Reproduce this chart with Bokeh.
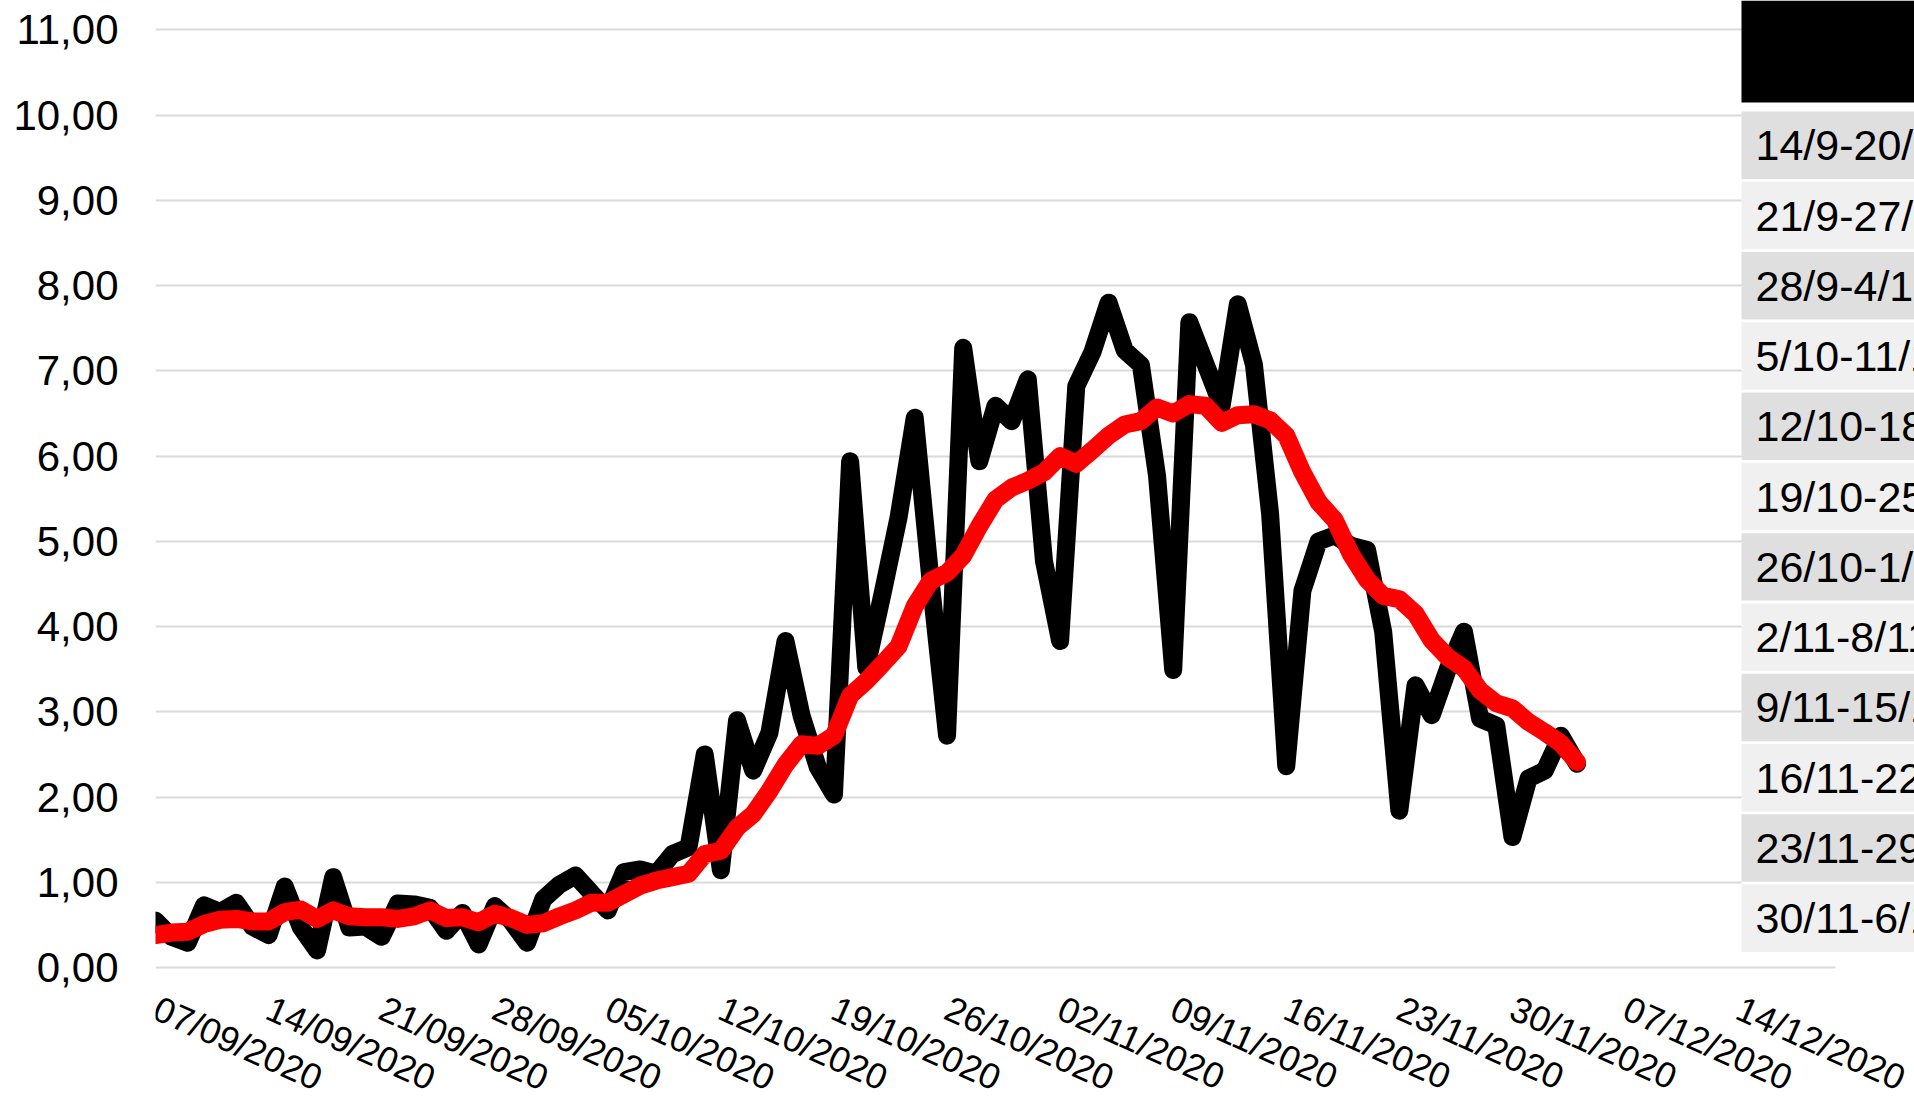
import pandas as pd
from bokeh.plotting import figure
from bokeh.models import (Range1d, FixedTicker, DatetimeTickFormatter, CustomJSTickFormatter,
                          BoxAnnotation, Label, ColumnDataSource)
from bokeh.embed import file_html
from bokeh.resources import INLINE

# ---------------- data ----------------
start_date = "2020-09-07"

daily_values = [
    0.55, 0.36, 0.29, 0.73, 0.65, 0.76, 0.48, 0.38, 0.95, 0.47,
    0.20, 1.06, 0.47, 0.48, 0.36, 0.75, 0.74, 0.70, 0.43, 0.64,
    0.27, 0.72, 0.55, 0.29, 0.80, 0.97, 1.08, 0.87, 0.67, 1.12,
    1.15, 1.10, 1.33, 1.41, 2.50, 1.14, 2.90, 2.31, 2.75, 3.83,
    2.95, 2.35, 2.03, 5.94, 3.52, 4.38, 5.28, 6.45, 4.50, 2.72,
    7.27, 5.94, 6.59, 6.41, 6.90, 4.77, 3.83, 6.82, 7.22, 7.80,
    7.24, 7.07, 5.77, 3.49, 7.57, 7.08, 6.59, 7.78, 7.07, 5.32,
    2.36, 4.42, 5.00, 5.07, 4.95, 4.90, 3.94, 1.84, 3.31, 2.96,
    3.50, 3.94, 2.92, 2.84, 1.53, 2.22, 2.31, 2.72, 2.39,
]

avg_values = [
    0.38, 0.41, 0.42, 0.51, 0.56, 0.57, 0.54, 0.54, 0.65, 0.68,
    0.57, 0.67, 0.60, 0.59, 0.59, 0.57, 0.60, 0.67, 0.58, 0.59,
    0.53, 0.63, 0.58, 0.50, 0.52, 0.60, 0.67, 0.76, 0.76, 0.86,
    0.96, 1.02, 1.06, 1.10, 1.33, 1.37, 1.64, 1.80, 2.07, 2.38,
    2.62, 2.60, 2.72, 3.19, 3.36, 3.56, 3.77, 4.24, 4.54, 4.63,
    4.83, 5.18, 5.49, 5.63, 5.71, 5.81, 6.00, 5.91, 6.07, 6.24,
    6.37, 6.41, 6.57, 6.50, 6.61, 6.59, 6.39, 6.48, 6.49, 6.42,
    6.24, 5.81, 5.46, 5.25, 4.85, 4.55, 4.36, 4.32, 4.15, 3.84,
    3.64, 3.51, 3.25, 3.10, 3.04, 2.88, 2.76, 2.63, 2.41,
]

x_tick_dates = [
    "2020-09-07", "2020-09-14", "2020-09-21", "2020-09-28", "2020-10-05",
    "2020-10-12", "2020-10-19", "2020-10-26", "2020-11-02", "2020-11-09",
    "2020-11-16", "2020-11-23", "2020-11-30", "2020-12-07", "2020-12-14",
]
x_axis_end = "2020-12-20"

y_ticks = [0, 1, 2, 3, 4, 5, 6, 7, 8, 9, 10, 11]

table_labels = [
    "14/9-20/9", "21/9-27/9", "28/9-4/10", "5/10-11/10", "12/10-18/10",
    "19/10-25/10", "26/10-1/11", "2/11-8/11", "9/11-15/11", "16/11-22/11",
    "23/11-29/11", "30/11-6/12",
]
table_colors = ["#dfdfdf", "#f0f0f0"]

# ---------------- layout (page pixels) ----------------
W, H = 1914, 1099
plot_left, plot_right = 155, 1835          # pixel position of first / last x-axis date
y_top_px, y_zero_px = 29.4, 967.0          # pixel position of y=11 and y=0

t0 = pd.Timestamp(start_date)
t_end = pd.Timestamp(x_axis_end)
days_span = (t_end - t0) / pd.Timedelta(days=1)
px_per_day = (plot_right - plot_left) / days_span
x_max = t0 + pd.Timedelta(days=(W - plot_left) / px_per_day)

ppu = (y_zero_px - y_top_px) / y_ticks[-1]
y_min = -(H - y_zero_px) / ppu
y_max = y_ticks[-1] + y_top_px / ppu

dates = pd.date_range(start_date, periods=len(daily_values), freq="D")
src = ColumnDataSource(dict(date=dates, daily=daily_values, avg=avg_values))

p = figure(
    width=W, height=H, output_backend="svg", toolbar_location=None,
    x_axis_type="datetime",
    x_range=Range1d(t0, x_max),
    y_range=Range1d(y_min, y_max),
    min_border_left=plot_left, min_border_right=0, min_border_top=0, min_border_bottom=0,
    background_fill_color="white", border_fill_color="white",
)
p.outline_line_color = None

# grid
p.xgrid.grid_line_color = None
p.ygrid.ticker = FixedTicker(ticks=y_ticks)
p.ygrid.grid_line_color = "#d9d9d9"
p.ygrid.grid_line_width = 2
t0_ms = t0.value // 10**6
tend_ms = t_end.value // 10**6
grid_limited = True
try:
    p.ygrid.cross_bounds = (t0_ms, tend_ms)
except Exception:
    grid_limited = False

# y axis
p.yaxis.ticker = FixedTicker(ticks=y_ticks)
p.yaxis.formatter = CustomJSTickFormatter(code="return tick.toFixed(2).replace('.', ',');")
p.yaxis.axis_line_color = None
p.yaxis.major_tick_line_color = None
p.yaxis.minor_tick_line_color = None
p.yaxis.major_tick_out = 0
p.yaxis.major_tick_in = 0
p.yaxis.major_label_standoff = 37
p.yaxis.major_label_text_font = "Liberation Sans"
p.yaxis.major_label_text_font_size = "42px"
p.yaxis.major_label_text_color = "black"

# x axis (drawn at y = 0)
tick_ms = [pd.Timestamp(d).value // 10**6 for d in x_tick_dates]
p.xaxis.fixed_location = 0
p.xaxis.ticker = FixedTicker(ticks=tick_ms)
fmt = "%d/%m/%Y"
p.xaxis.formatter = DatetimeTickFormatter(
    microseconds=fmt, milliseconds=fmt, seconds=fmt, minsec=fmt, minutes=fmt,
    hourmin=fmt, hours=fmt, days=fmt, months=fmt, years=fmt)
p.xaxis.axis_line_color = None
p.xaxis.major_tick_line_color = None
p.xaxis.minor_tick_line_color = None
p.xaxis.major_tick_out = 0
p.xaxis.major_tick_in = 0
p.xaxis.major_label_standoff = 39
p.xaxis.major_label_orientation = -0.4189
p.xaxis.major_label_text_font = "Liberation Sans"
p.xaxis.major_label_text_font_size = "36px"
p.xaxis.major_label_text_color = "black"

# lines
p.line("date", "daily", source=src, line_color="black", line_width=18,
       line_join="round", line_cap="round")
p.line("date", "avg", source=src, line_color="#ff0000", line_width=18,
       line_join="round", line_cap="round")

# ---------------- table overlay ----------------
row_pitch, row0_center = 70.27, 144.75
p.extra_x_ranges = {"tbl_x": Range1d(plot_left, W)}
p.extra_y_ranges = {"tbl_y": Range1d((H - row0_center) / row_pitch,
                                     (0 - row0_center) / row_pitch)}

def row_v(px):
    return (px - row0_center) / row_pitch

tbl_left, tbl_right = 1741, W + 20
if not grid_limited:
    p.add_layout(BoxAnnotation(left=plot_right, right=tbl_right, top=row_v(955), bottom=row_v(985),
                               fill_color="white", fill_alpha=1.0, line_color=None,
                               x_range_name="tbl_x", y_range_name="tbl_y"))
# white backing of the table
p.add_layout(BoxAnnotation(left=tbl_left, right=tbl_right, top=row_v(102), bottom=row_v(955),
                           fill_color="white", fill_alpha=1.0, line_color=None,
                           x_range_name="tbl_x", y_range_name="tbl_y"))
# black header
p.add_layout(BoxAnnotation(left=tbl_left, right=tbl_right, top=row_v(0), bottom=row_v(102),
                           fill_color="black", fill_alpha=1.0, line_color=None,
                           x_range_name="tbl_x", y_range_name="tbl_y"))
for i, lab in enumerate(table_labels):
    p.add_layout(BoxAnnotation(left=tbl_left, right=tbl_right, top=i - 0.48, bottom=i + 0.48,
                               fill_color=table_colors[i % 2], fill_alpha=1.0, line_color=None,
                               x_range_name="tbl_x", y_range_name="tbl_y"))
    p.add_layout(Label(x=1755, y=i, text=lab, text_align="left", text_baseline="middle",
                       text_font="Liberation Sans", text_font_size="43px", text_color="black",
                       x_range_name="tbl_x", y_range_name="tbl_y"))

open("out.html", "w").write(file_html(p, INLINE))
